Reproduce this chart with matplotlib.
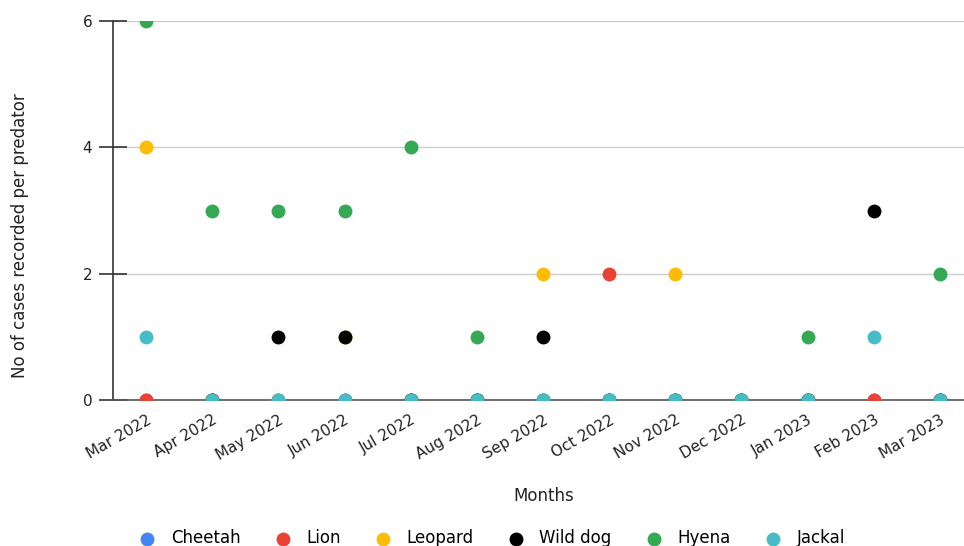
import matplotlib
matplotlib.use("Agg")
import matplotlib.pyplot as plt
import numpy as np

nan = np.nan

months = ["Mar 2022", "Apr 2022", "May 2022", "Jun 2022", "Jul 2022", "Aug 2022",
          "Sep 2022", "Oct 2022", "Nov 2022", "Dec 2022", "Jan 2023", "Feb 2023", "Mar 2023"]

cheetah = [0, 0, 0, 0, 0, 0, 0, 0, 0, 0, 0, 0, 0]
lion = [0, 0, 0, 0, 0, 0, 0, 2, 0, 0, 0, 0, 0]
leopard = [4, 0, 0, 1, 0, 0, 2, 0, 2, 0, 0, nan, 0]
wild_dog = [nan, 0, 1, 1, 0, 0, 1, 0, 0, 0, 0, 3, 0]
hyena = [6, 3, 3, 3, 4, 1, 0, 0, 0, 0, 1, nan, 2]
jackal = [1, 0, 0, 0, 0, 0, 0, 0, 0, 0, 0, 1, 0]

series = [
    ("Cheetah", cheetah, "#4285f4"),
    ("Lion", lion, "#ea4335"),
    ("Leopard", leopard, "#fbbc04"),
    ("Wild dog", wild_dog, "#000000"),
    ("Hyena", hyena, "#34a853"),
    ("Jackal", jackal, "#46bdc6"),
]

plt.rcParams['font.family'] = ['DejaVu Sans']

fig = plt.figure(figsize=(9.64, 5.46), dpi=100)
ax = fig.add_axes([113 / 964, 1 - 400 / 546, (973 - 113) / 964, (400 - 21) / 546])

x = np.arange(len(months))
for name, vals, color in series:
    ax.scatter(x, vals, s=100, color=color, label=name, zorder=3, linewidths=0, clip_on=True)

ax.set_xlim(-0.5, len(months) - 0.5)
ax.set_ylim(0, 6)
ax.set_yticks([0, 2, 4, 6])
ax.set_xticks(x)
ax.set_xticklabels(months, rotation=30, ha="right", rotation_mode="anchor")
ax.tick_params(axis="x", length=0, pad=9, labelsize=11, labelcolor="#222222")
ax.tick_params(axis="y", length=20, width=1.2, color="#333333", direction="inout",
               labelsize=11, labelcolor="#222222", pad=5)

ax.grid(axis="y", color="#cccccc", linewidth=1)
ax.set_axisbelow(True)
for side in ["top", "right"]:
    ax.spines[side].set_visible(False)
ax.spines["left"].set_color("#333333")
ax.spines["left"].set_linewidth(1.2)
ax.spines["bottom"].set_color("#555555")
ax.spines["bottom"].set_linewidth(1.2)

fig.text(544 / 964, 1 - 496 / 546, "Months", ha="center", va="center", fontsize=12, color="#222222")
fig.text(20 / 964, 1 - 236 / 546, "No of cases recorded per predator", rotation=90,
         ha="center", va="center", fontsize=12, color="#222222")

fig.legend(loc="center", bbox_to_anchor=(492 / 964, 1 - 538 / 546), ncol=6, frameon=False,
           fontsize=12, handlelength=1.0, handletextpad=0.9, columnspacing=2.05,
           borderaxespad=0, borderpad=0)

fig.savefig("out.png", dpi=100)
